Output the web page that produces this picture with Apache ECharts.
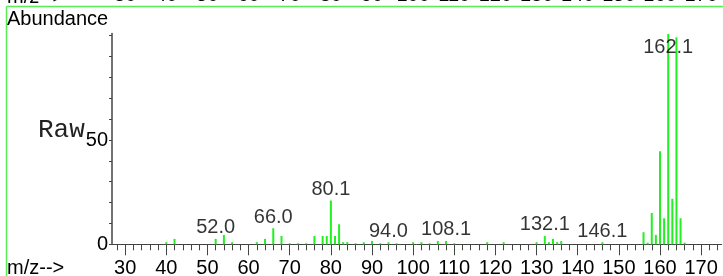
<!DOCTYPE html>
<html>
<head>
<meta charset="utf-8">
<script src="https://cdn.jsdelivr.net/npm/echarts@6/dist/echarts.min.js"></script>
<style>
  html, body { margin: 0; padding: 0; background: #fff; }
  #chart { width: 723px; height: 276px; }
</style>
</head>
<body>
<div id="chart"></div>
<script>
// m/z values and their raw abundance
const mz = [40, 42, 52, 54, 56, 62, 64, 66, 68, 70, 72, 74, 76, 78, 79, 80, 81, 82, 83, 84, 86, 88, 90, 92, 94, 96,
  100, 102, 104, 106, 108, 110, 118, 122, 130, 132, 133, 134, 135, 136, 146,
  156, 157, 158, 159, 160, 161, 162, 163, 164, 165, 166]
const abundance = [1, 2.6, 2.6, 4.5, 1, 1, 2.6, 7.7, 4.0, 0.5, 0.5, 0.5, 4.0, 4.0, 4.0, 21, 4.0, 9.6, 1, 1, 0.5, 1, 1.6, 0.5, 1, 0.5,
  1, 1, 0.5, 1.6, 1.6, 0.5, 1, 1, 1, 4.0, 1, 2.6, 1, 1.6, 1,
  5.8, 0.8, 15, 4.5, 44.6, 12.5, 100.8, 21.8, 99.2, 12.5, 0.8]

// labelled peaks
const peakMz = [52, 66, 80, 94, 108, 132, 146, 162]
const peakText = ['52.0', '66.0', '80.1', '94.0', '108.1', '132.1', '146.1', '162.1']

// axis ticks
const xMinorTicks = []
for (let v = 28; v <= 174; v += 2) xMinorTicks.push(v)
const xMajorTicks = [30, 40, 50, 60, 70, 80, 90, 100, 110, 120, 130, 140, 150, 160, 170]
const yTicks = [0, 10, 20, 30, 40, 50, 60, 70, 80, 90, 100]
const yLabels = [0, 50]

const FONT = "'Liberation Sans', Arial, sans-serif"
const GREEN = '#22f022'
const AXIS = '#444'

const bars = mz.map((m, i) => [m, abundance[i]])
// the tallest label sits inside the plot instead of above it
const peakPoints = peakMz.map(m => {
  const v = abundance[mz.indexOf(m)]
  return [m, Math.min(v, 89)]
})

const chart = echarts.init(document.getElementById('chart'))
const xBase = { type: 'value', min: 26.8, max: 175, splitLine: { show: false } }

chart.setOption({
  animation: false,
  grid: { left: 112, right: 1.3, top: 33.6, bottom: 31.7, outerBoundsMode: 'none', containLabel: false },
  xAxis: [
    {
      ...xBase,
      position: 'bottom',
      axisLine: { show: true, lineStyle: { color: AXIS, width: 1 } },
      axisTick: { show: true, length: 6, customValues: xMinorTicks, lineStyle: { color: AXIS } },
      axisLabel: { show: false }
    },
    {
      ...xBase,
      position: 'bottom',
      axisLine: { show: false },
      axisTick: { show: true, length: 11, customValues: xMajorTicks, lineStyle: { color: AXIS } },
      axisLabel: {
        show: true, customValues: xMajorTicks, margin: 14,
        color: '#000', fontSize: 20, fontFamily: FONT
      }
    },
    {
      // leftover labels of the panel above, cut off by the top edge
      ...xBase,
      position: 'top',
      offset: 20,
      axisLine: { show: false },
      axisTick: { show: false },
      axisLabel: {
        show: true, customValues: xMajorTicks, margin: 8,
        color: '#000', fontSize: 20, fontFamily: FONT
      }
    }
  ],
  yAxis: {
    type: 'value',
    min: 0,
    max: 101,
    splitLine: { show: false },
    axisLine: { show: true, lineStyle: { color: AXIS, width: 1.5 } },
    axisTick: { show: true, length: 3, customValues: yTicks, lineStyle: { color: AXIS } },
    axisLabel: {
      show: true, customValues: yLabels, margin: 4,
      color: '#000', fontSize: 20, fontFamily: FONT
    }
  },
  series: [
    {
      type: 'bar',
      xAxisIndex: 0,
      data: bars,
      barWidth: 2,
      itemStyle: { color: GREEN },
      silent: true
    },
    {
      type: 'scatter',
      xAxisIndex: 0,
      data: peakPoints,
      symbolSize: 0,
      silent: true,
      label: {
        show: true,
        position: 'top',
        distance: 1,
        color: '#000',
        fontSize: 20,
        fontFamily: FONT,
        formatter: p => peakText[p.dataIndex]
      }
    }
  ],
  graphic: [
    { type: 'line', shape: { x1: 6.5, y1: 6.5, x2: 723, y2: 6.5 }, style: { stroke: '#55ee55', lineWidth: 1.5 } },
    { type: 'line', shape: { x1: 6.5, y1: 6.5, x2: 6.5, y2: 276 }, style: { stroke: '#55ee55', lineWidth: 1.5 } },
    { type: 'text', left: 7, top: -13, style: { text: 'm/z-->', fontSize: 20, fontFamily: FONT, fill: '#000' } },
    { type: 'text', left: 7, top: 9, style: { text: 'Abundance', fontSize: 20, fontFamily: FONT, fill: '#000' } },
    { type: 'text', left: 7, top: 258, style: { text: 'm/z-->', fontSize: 20, fontFamily: FONT, fill: '#000' } },
    { type: 'text', left: 38, top: 117, style: { text: 'Raw', fontSize: 26, fontFamily: "'Liberation Mono', 'Courier New', monospace", fill: '#222' } }
  ]
})
</script>
</body>
</html>
